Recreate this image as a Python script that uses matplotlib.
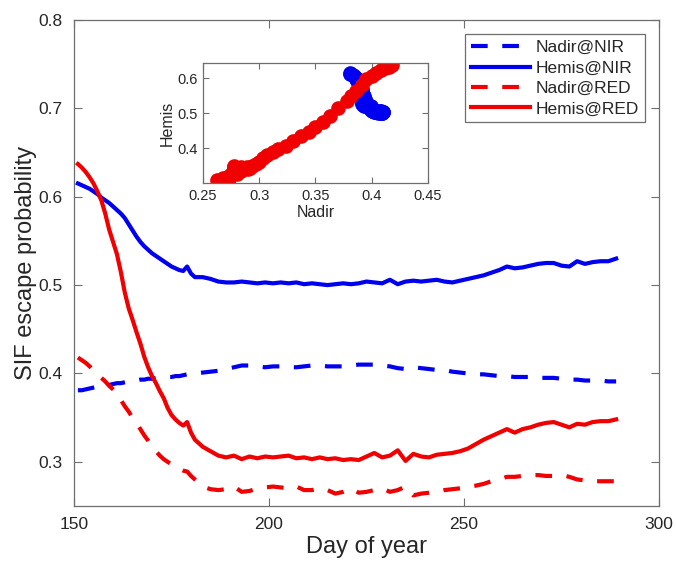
import matplotlib
matplotlib.use("Agg")
import matplotlib.pyplot as plt

plt.rcParams['font.family'] = ['Liberation Sans', 'DejaVu Sans']

# day of year: daily through the early drop, then every 2 days
days = list(range(151, 181)) + list(range(181, 290, 2))

# SIF escape probability
hemis_nir = [0.615, 0.613, 0.611, 0.609, 0.606, 0.603, 0.599, 0.596, 0.593, 0.589,
             0.585, 0.581, 0.576, 0.569, 0.562, 0.555, 0.549, 0.544, 0.540, 0.536,
             0.533, 0.530, 0.527, 0.524, 0.521, 0.519, 0.517, 0.516, 0.521, 0.513,
             0.509, 0.509, 0.507, 0.504, 0.503,
             0.503, 0.504, 0.503, 0.502, 0.503, 0.502, 0.503, 0.502, 0.503, 0.501,
             0.502, 0.501, 0.500, 0.501, 0.502, 0.501, 0.502, 0.504, 0.503, 0.502,
             0.506, 0.501, 0.504, 0.505, 0.504, 0.505, 0.506, 0.504, 0.503, 0.505,
             0.507, 0.509, 0.511, 0.514, 0.517, 0.521, 0.519, 0.520, 0.522, 0.524,
             0.525, 0.525, 0.522, 0.521, 0.527, 0.524, 0.526, 0.527, 0.527, 0.530]
nadir_nir = [0.381, 0.381, 0.382, 0.383, 0.384, 0.385, 0.386, 0.386, 0.387, 0.388,
             0.389, 0.389, 0.390, 0.391, 0.391, 0.392, 0.393, 0.393, 0.394, 0.394,
             0.395, 0.395, 0.395, 0.396, 0.396, 0.397, 0.397, 0.398, 0.399, 0.400,
             0.400, 0.401, 0.402, 0.403, 0.405,
             0.407, 0.409, 0.409, 0.408, 0.407, 0.408, 0.408, 0.407, 0.407, 0.408,
             0.409, 0.409, 0.408, 0.408, 0.408, 0.409, 0.410, 0.410, 0.410, 0.409,
             0.408, 0.406, 0.405, 0.407, 0.406, 0.405, 0.404, 0.404, 0.402, 0.401,
             0.400, 0.399, 0.399, 0.398, 0.397, 0.397, 0.396, 0.396, 0.396, 0.395,
             0.395, 0.395, 0.394, 0.393, 0.393, 0.392, 0.392, 0.392, 0.391, 0.391]
hemis_red = [0.637, 0.633, 0.628, 0.622, 0.615, 0.606, 0.596, 0.581, 0.563, 0.549,
             0.535, 0.515, 0.492, 0.474, 0.461, 0.447, 0.434, 0.419, 0.407, 0.397,
             0.389, 0.380, 0.372, 0.361, 0.353, 0.348, 0.344, 0.341, 0.345, 0.333,
             0.325, 0.317, 0.312, 0.307, 0.305,
             0.307, 0.303, 0.306, 0.304, 0.306, 0.305, 0.306, 0.307, 0.304, 0.305,
             0.303, 0.305, 0.303, 0.304, 0.302, 0.303, 0.302, 0.306, 0.310, 0.305,
             0.307, 0.313, 0.301, 0.309, 0.306, 0.305, 0.308, 0.309, 0.310, 0.312,
             0.315, 0.320, 0.325, 0.329, 0.333, 0.337, 0.333, 0.337, 0.339, 0.342,
             0.344, 0.345, 0.342, 0.339, 0.343, 0.342, 0.345, 0.346, 0.346, 0.348]
nadir_red = [0.418, 0.415, 0.412, 0.408, 0.404, 0.400, 0.395, 0.391, 0.386, 0.382,
             0.378, 0.370, 0.363, 0.357, 0.350, 0.344, 0.337, 0.330, 0.324, 0.317,
             0.312, 0.307, 0.303, 0.300, 0.297, 0.294, 0.292, 0.290, 0.289, 0.284,
             0.280, 0.272, 0.269, 0.268, 0.269,
             0.272, 0.266, 0.267, 0.270, 0.271, 0.272, 0.271, 0.270, 0.272, 0.268,
             0.268, 0.270, 0.268, 0.264, 0.266, 0.270, 0.265, 0.266, 0.268, 0.270,
             0.266, 0.268, 0.272, 0.262, 0.264, 0.265, 0.266, 0.268, 0.269, 0.270,
             0.272, 0.273, 0.275, 0.278, 0.280, 0.283, 0.283, 0.284, 0.285, 0.285,
             0.284, 0.284, 0.285, 0.283, 0.280, 0.279, 0.278, 0.278, 0.278, 0.278]

BLUE = '#0000f0'
RED = '#f00000'
AXC = '#6e6e6e'
TXT = '#262626'
dash = (4, 3.5)

fig = plt.figure(figsize=(6.76, 5.67), dpi=100)
ax = fig.add_axes([0.1095, 0.1076, 0.8654, 0.8571])

ax.plot(days, nadir_nir, color=BLUE, lw=3, ls='--', dashes=dash, label='Nadir@NIR')
ax.plot(days, hemis_nir, color=BLUE, lw=3, label='Hemis@NIR')
ax.plot(days, nadir_red, color=RED, lw=3, ls='--', dashes=dash, label='Nadir@RED')
ax.plot(days, hemis_red, color=RED, lw=3, label='Hemis@RED')

ax.set_xlim(150, 300)
ax.set_ylim(0.25, 0.8)
ax.set_xticks([150, 200, 250, 300])
ax.set_yticks([0.3, 0.4, 0.5, 0.6, 0.7, 0.8])
ax.set_yticklabels(['0.3', '0.4', '0.5', '0.6', '0.7', '0.8'])
ax.tick_params(direction='in', length=6, width=0.8, color=AXC, labelcolor=TXT,
               labelsize=12.5, top=True, right=True, pad=8)
for s in ax.spines.values():
    s.set_color(AXC)
    s.set_linewidth(0.9)
ax.set_xlabel('Day of year', fontsize=17, color=TXT, labelpad=3)
ax.set_ylabel('SIF escape probability', fontsize=17, color=TXT, labelpad=1)

leg = ax.legend(loc='upper right', bbox_to_anchor=(0.976, 0.971), borderaxespad=0,
                fontsize=12.5, handlelength=3.4, fancybox=False, framealpha=1,
                edgecolor=AXC, labelspacing=0.3, handletextpad=0.3, borderpad=0.35)
leg.get_frame().set_linewidth(0.9)
for t in leg.get_texts():
    t.set_color(TXT)

# inset: hemispherical vs nadir
ins = fig.add_axes([0.3003, 0.6772, 0.3328, 0.2116])
ins.plot(nadir_nir, hemis_nir, 'o', color=BLUE, ms=9.5, mec=BLUE)
ins.plot(nadir_red, hemis_red, 'o', color=RED, ms=9.5, mec=RED)
ins.set_xlim(0.25, 0.45)
ins.set_ylim(0.30, 0.643)
ins.set_xticks([0.25, 0.3, 0.35, 0.4, 0.45])
ins.set_xticklabels(['0.25', '0.3', '0.35', '0.4', '0.45'])
ins.set_yticks([0.4, 0.5, 0.6])
ins.set_yticklabels(['0.4', '0.5', '0.6'])
ins.tick_params(direction='in', length=4, width=0.8, color=AXC, labelcolor=TXT,
                labelsize=10.5, top=True, right=True, pad=4)
for s in ins.spines.values():
    s.set_color(AXC)
    s.set_linewidth(0.9)
ins.set_xlabel('Nadir', fontsize=11.5, color=TXT, labelpad=2)
ins.set_ylabel('Hemis', fontsize=11.5, color=TXT, labelpad=2)

fig.savefig('out.png', dpi=100)
